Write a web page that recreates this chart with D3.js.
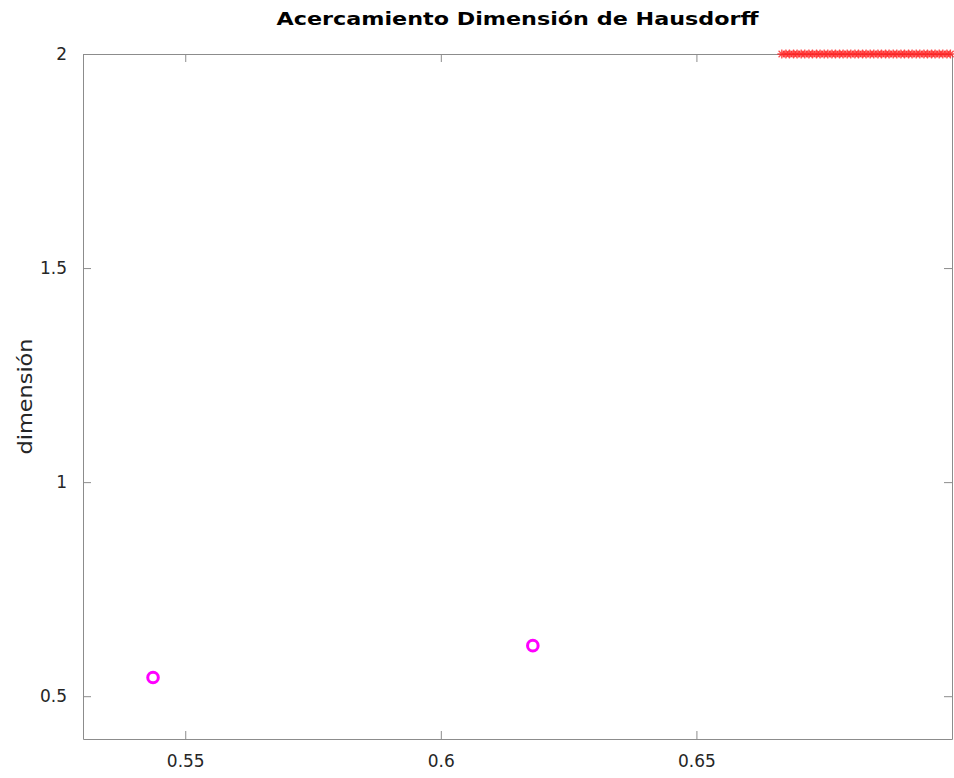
<!DOCTYPE html>
<meta charset="utf-8">
<style>
body { margin: 0; background: #fff; }
.axis text { font: 17px "DejaVu Sans", sans-serif; fill: #262626; }
.axis path, .axis line { stroke: #8c8c8c; }
.title { font: bold 18px "DejaVu Sans", sans-serif; fill: #000; }
.ylabel { font: 20px "DejaVu Sans", sans-serif; fill: #262626; }
</style>
<body>
<script src="https://d3js.org/d3.v7.min.js"></script>
<script>

// data
const ringX = [0.5437, 0.6180];
const ringY = [0.5437, 0.6180];

const starX = [0.6667, 0.6675, 0.6682, 0.6690, 0.6697, 0.6705, 0.6712, 0.6720, 0.6727, 0.6735,
               0.6742, 0.6750, 0.6757, 0.6765, 0.6772, 0.6780, 0.6787, 0.6795, 0.6802, 0.6810,
               0.6817, 0.6825, 0.6832, 0.6840, 0.6847, 0.6855, 0.6862, 0.6870, 0.6877, 0.6885,
               0.6892, 0.6900, 0.6907, 0.6915, 0.6922, 0.6930, 0.6937, 0.6945, 0.6952, 0.6960,
               0.6967, 0.6975, 0.6982, 0.6990, 0.6997];
const starY = starX.map(() => 2);

const xTicks = [0.55, 0.6, 0.65];
const yTicks = [0.5, 1, 1.5, 2];

// set the dimensions and margins of the graph
const margin = {top: 54, right: 2, bottom: 39, left: 83},
    width = 954 - margin.left - margin.right,
    height = 778 - margin.top - margin.bottom;

const x = d3.scaleLinear().domain([0.53, 0.7]).range([0, width]);
const y = d3.scaleLinear().domain([0.4, 2]).range([height, 0]);

const svg = d3.select("body")
  .append("svg")
    .attr("width", 954)
    .attr("height", 778)
  .append("g")
    .attr("transform", "translate(" + margin.left + "," + margin.top + ")");

// box axes, ticks pointing inward
const fmt = d => String(d);
svg.append("g").attr("class", "axis")
    .attr("transform", "translate(0," + height + ")")
    .call(d3.axisBottom(x).tickValues(xTicks).tickFormat(fmt).tickSizeInner(-8).tickSizeOuter(0).tickPadding(16));
svg.append("g").attr("class", "axis")
    .call(d3.axisTop(x).tickValues(xTicks).tickFormat("").tickSizeInner(-8).tickSizeOuter(0));
svg.append("g").attr("class", "axis")
    .call(d3.axisLeft(y).tickValues(yTicks).tickFormat(fmt).tickSizeInner(-8).tickSizeOuter(0).tickPadding(16));
svg.append("g").attr("class", "axis")
    .attr("transform", "translate(" + width + ",0)")
    .call(d3.axisRight(y).tickValues(yTicks).tickFormat("").tickSizeInner(-8).tickSizeOuter(0));

// title and label (the original renders them a bit wide)
svg.append("text").attr("class", "title")
    .attr("x", width / 2).attr("y", -29)
    .attr("text-anchor", "middle")
    .attr("textLength", 482)
    .attr("lengthAdjust", "spacingAndGlyphs")
    .text("Acercamiento Dimensión de Hausdorff");

svg.append("text").attr("class", "ylabel")
    .attr("transform", "translate(" + (-51) + "," + (height / 2) + ") rotate(-90)")
    .attr("text-anchor", "middle")
    .attr("textLength", 116)
    .attr("lengthAdjust", "spacingAndGlyphs")
    .text("dimensión");

// magenta rings
svg.append("g").selectAll("circle")
    .data(ringX.map((v, i) => [v, ringY[i]]))
    .enter().append("circle")
    .attr("cx", d => x(d[0]))
    .attr("cy", d => y(d[1]))
    .attr("r", 5.3)
    .attr("fill", "none")
    .attr("stroke", "#ff00ff")
    .attr("stroke-width", 3);

// red asterisks
const s = 4.4, t = 3.2;
const star = "M" + (-s) + ",0L" + s + ",0M0," + (-s) + "L0," + s +
    "M" + (-t) + "," + (-t) + "L" + t + "," + t + "M" + (-t) + "," + t + "L" + t + "," + (-t);
svg.append("g").selectAll("path")
    .data(starX.map((v, i) => [v, starY[i]]))
    .enter().append("path")
    .attr("transform", d => "translate(" + x(d[0]) + "," + y(d[1]) + ")")
    .attr("d", star)
    .attr("fill", "none")
    .attr("stroke", "#ff2020")
    .attr("stroke-width", 1.3)
    .attr("stroke-opacity", 0.8);

</script>
</body>
